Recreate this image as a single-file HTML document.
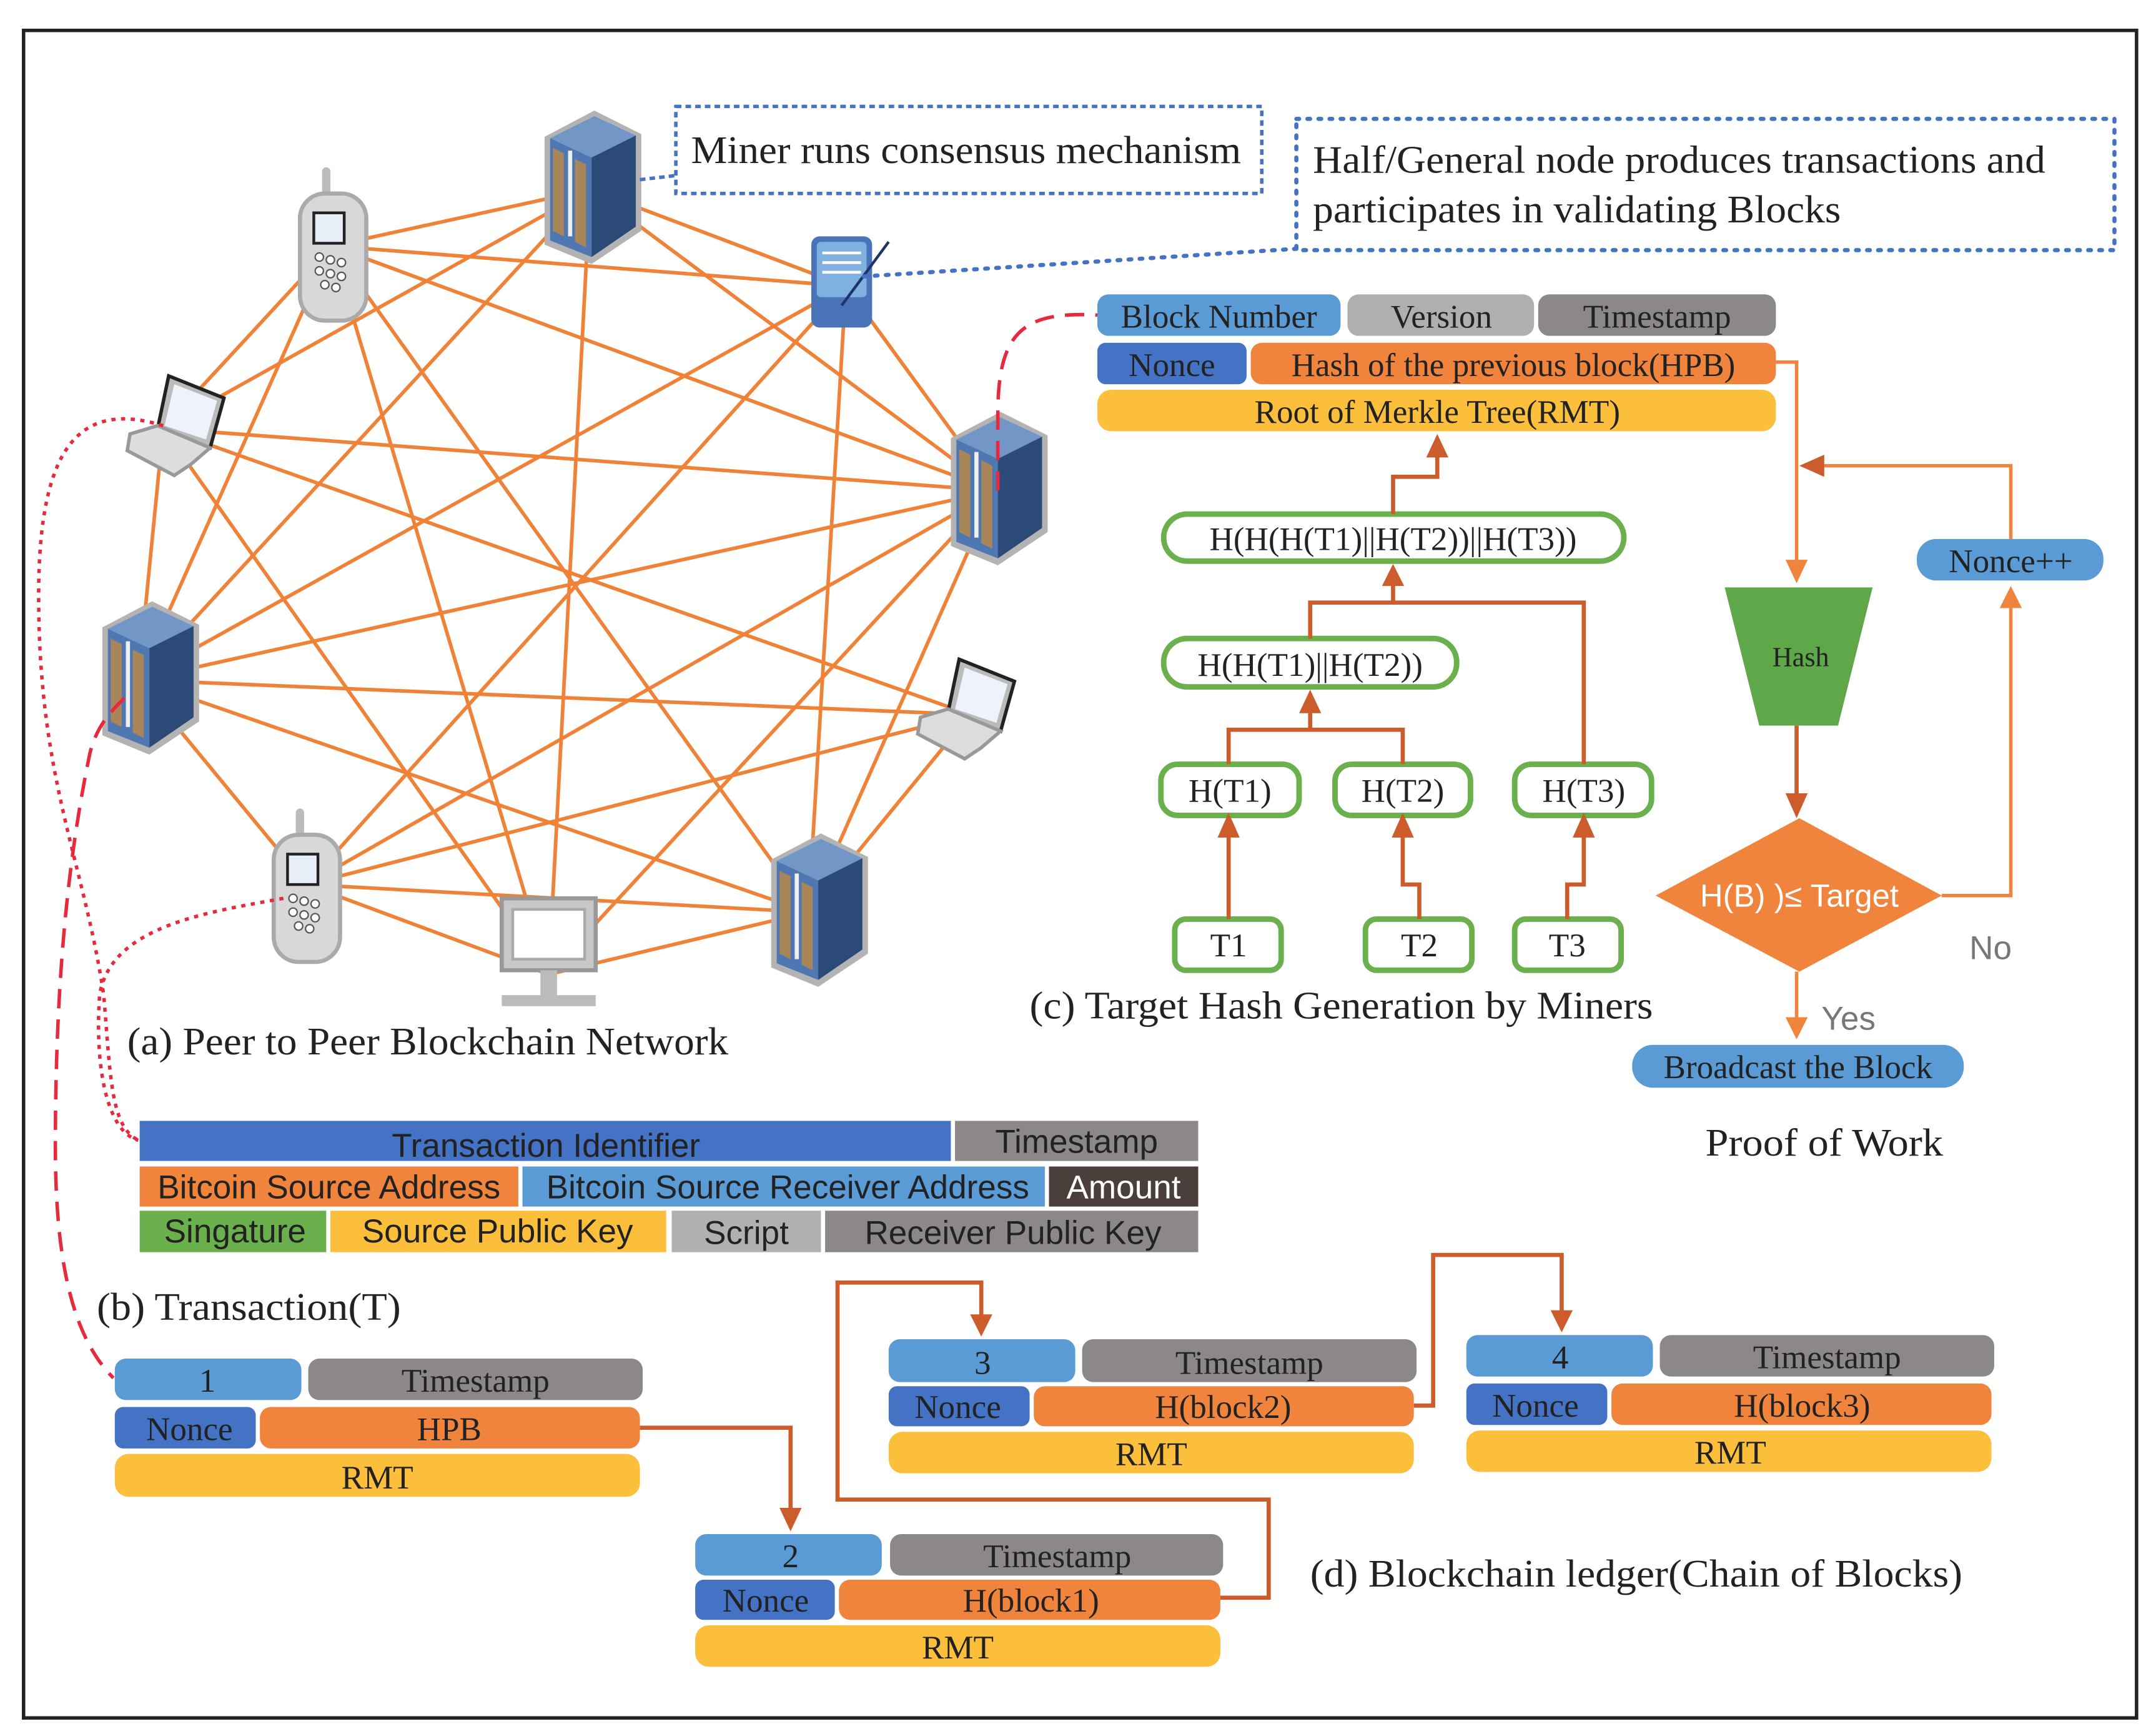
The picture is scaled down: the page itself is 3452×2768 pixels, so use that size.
<!DOCTYPE html>
<html><head><meta charset="utf-8"><style>
html,body{margin:0;padding:0;background:#fff}
svg{display:block}
.s{font-family:"Liberation Serif",serif;fill:#222}
.a{font-family:"Liberation Sans",sans-serif;fill:#222}
</style></head><body>
<svg width="3452" height="2768" viewBox="0 0 1560 1251" xmlns="http://www.w3.org/2000/svg">
<defs>
<g id="srv">
<polygon points="-34,-38 2,-57 36,-40 36,30 0,54 -34,40" fill="#b3b3b3"/>
<polygon points="-30,-37 2,-53 32,-39 0,-23" fill="#7296c6"/>
<polygon points="-30,-37 0,-23 0,49 -30,37" fill="#4f78b2"/>
<polygon points="0,-23 32,-39 32,27 0,49" fill="#2c4a77"/>
<polygon points="-28,-30 -20,-26 -20,34 -28,30" fill="#a8865a"/>
<polygon points="-12,-22 -4,-18 -4,42 -12,38" fill="#a8865a"/>
<rect x="-17" y="-28" width="3" height="62" fill="#eee"/>
</g>
<g id="phone">
<rect x="-8" y="-55" width="6" height="22" rx="3" fill="#bbb"/>
<rect x="-24" y="-36" width="48" height="92" rx="18" fill="#d8d8d8" stroke="#aaa" stroke-width="3"/>
<rect x="-14" y="-22" width="22" height="22" fill="#e8eef8" stroke="#222" stroke-width="2"/>
<g fill="#fff" stroke="#555" stroke-width="1"><circle cx="-10" cy="10" r="3"/><circle cx="-2" cy="12" r="3"/><circle cx="6" cy="14" r="3"/><circle cx="-10" cy="20" r="3"/><circle cx="-2" cy="22" r="3"/><circle cx="6" cy="24" r="3"/><circle cx="-6" cy="30" r="3"/><circle cx="2" cy="32" r="3"/></g>
</g>
<g id="lap">
<polygon points="-6,-36 34,-20 24,16 -14,2" fill="#bbb" stroke="#222" stroke-width="2.5"/>
<polygon points="-2,-30 29,-18 21,10 -9,0" fill="#eef2fa"/>
<polygon points="-34,6 -14,0 24,16 10,28 -2,36 -36,18" fill="#ddd" stroke="#999" stroke-width="2.5"/>
</g>
</defs>
<rect x="17" y="22" width="1529" height="1221" fill="none" stroke="#222" stroke-width="2.5"/>

<g stroke="#f08237" stroke-width="2.6">
<line x1="427" y1="137" x2="240" y2="178"/><line x1="427" y1="137" x2="612" y2="207"/><line x1="427" y1="137" x2="118" y2="310"/><line x1="427" y1="137" x2="720" y2="355"/><line x1="427" y1="137" x2="397" y2="705"/><line x1="427" y1="137" x2="100" y2="492"/>
<line x1="240" y1="178" x2="612" y2="207"/><line x1="240" y1="178" x2="118" y2="310"/><line x1="240" y1="178" x2="720" y2="355"/><line x1="240" y1="178" x2="100" y2="492"/><line x1="240" y1="178" x2="585" y2="660"/><line x1="240" y1="178" x2="397" y2="705"/>
<line x1="612" y1="207" x2="720" y2="355"/><line x1="612" y1="207" x2="100" y2="492"/><line x1="612" y1="207" x2="222" y2="640"/><line x1="612" y1="207" x2="585" y2="660"/>
<line x1="118" y1="310" x2="720" y2="355"/><line x1="118" y1="310" x2="100" y2="492"/><line x1="118" y1="310" x2="702" y2="517"/><line x1="118" y1="310" x2="397" y2="705"/>
<line x1="720" y1="355" x2="100" y2="492"/><line x1="720" y1="355" x2="585" y2="660"/><line x1="720" y1="355" x2="397" y2="705"/><line x1="720" y1="355" x2="222" y2="640"/>
<line x1="100" y1="492" x2="702" y2="517"/><line x1="100" y1="492" x2="222" y2="640"/><line x1="100" y1="492" x2="585" y2="660"/>
<line x1="702" y1="517" x2="585" y2="660"/><line x1="702" y1="517" x2="222" y2="640"/>
<line x1="222" y1="640" x2="585" y2="660"/><line x1="222" y1="640" x2="397" y2="705"/><line x1="397" y1="705" x2="585" y2="660"/>
</g>

<use href="#srv" x="428" y="137"/>
<use href="#phone" x="241" y="176"/>
<g transform="translate(609,203)"><rect x="-22" y="-32" width="44" height="66" rx="6" fill="#4a74b8"/><rect x="-18" y="-28" width="36" height="40" rx="3" fill="#7fb0e0"/><g stroke="#fff" stroke-width="2"><line x1="-14" y1="-20" x2="14" y2="-20"/><line x1="-14" y1="-13" x2="14" y2="-13"/><line x1="-14" y1="-6" x2="14" y2="-6"/></g><line x1="0" y1="18" x2="34" y2="-28" stroke="#1c3566" stroke-width="2"/></g>
<use href="#lap" x="128" y="308"/>
<use href="#srv" x="722" y="355"/>
<use href="#srv" x="108" y="492"/>
<use href="#lap" x="700" y="513"/>
<use href="#phone" x="222" y="640"/>
<g transform="translate(397,690)"><rect x="-34" y="-40" width="68" height="52" fill="#c8c8c8" stroke="#999" stroke-width="3"/><rect x="-26" y="-32" width="52" height="36" fill="#fff" stroke="#aaa" stroke-width="2"/><rect x="-6" y="12" width="12" height="22" fill="#bbb"/><rect x="-34" y="30" width="68" height="8" fill="#bbb"/></g>
<use href="#srv" x="592" y="660"/>

<rect x="489" y="77" width="424" height="63" fill="none" stroke="#4472c4" stroke-width="2.5" stroke-dasharray="4,3"/>
<line x1="463" y1="130" x2="489" y2="127" stroke="#4472c4" stroke-width="2.5" stroke-dasharray="4,3"/>
<text x="500" y="118" class="s" font-size="28" textLength="398" lengthAdjust="spacingAndGlyphs">Miner runs consensus mechanism</text>
<rect x="938" y="86" width="592" height="95" fill="none" stroke="#4472c4" stroke-width="3" stroke-dasharray="2,6" stroke-linecap="round"/>
<line x1="625" y1="200" x2="938" y2="180" stroke="#4472c4" stroke-width="3" stroke-dasharray="2,6" stroke-linecap="round"/>
<text x="950" y="125" class="s" font-size="28" textLength="530" lengthAdjust="spacingAndGlyphs">Half/General node produces transactions and</text>
<text x="950" y="161" class="s" font-size="28" textLength="382" lengthAdjust="spacingAndGlyphs">participates in validating Blocks</text>

<g fill="none" stroke="#e8283c" stroke-width="2.5">
<path d="M722,355 L722,300 C722,240 740,225 794,228" stroke-dasharray="14,8"/>
<path d="M118,308 C60,290 30,320 28,420 C26,560 60,620 75,720 C80,780 80,815 100,825" stroke-dasharray="3,4"/>
<path d="M205,650 C150,660 80,670 72,720 C68,780 80,820 100,825" stroke-dasharray="3,4"/>
<path d="M90,505 C80,515 70,525 65,545 C45,640 40,740 40,830 C40,920 55,970 82,997" stroke-dasharray="14,8"/>
</g>

<g class="s" font-size="24" text-anchor="middle">
<rect x="794" y="213" width="176" height="30" rx="8" fill="#5b9bd5"/><text x="882" y="237">Block Number</text>
<rect x="975" y="213" width="135" height="30" rx="8" fill="#afafaf"/><text x="1043" y="237">Version</text>
<rect x="1113" y="213" width="172" height="30" rx="8" fill="#8c8888"/><text x="1199" y="237">Timestamp</text>
<rect x="794" y="248" width="108" height="30" rx="6" fill="#4472c4"/><text x="848" y="272">Nonce</text>
<rect x="905" y="248" width="380" height="30" rx="8" fill="#f0843c"/><text x="1095" y="272">Hash of the previous block(HPB)</text>
<rect x="794" y="282" width="491" height="30" rx="10" fill="#fbbf3b"/><text x="1040" y="306">Root of Merkle Tree(RMT)</text>
</g>

<g fill="#fff" stroke="#6ab04c" stroke-width="4">
<rect x="842" y="372" width="333" height="34" rx="17"/>
<rect x="842" y="462" width="212" height="35" rx="17"/>
<rect x="840" y="553" width="100" height="37" rx="12"/>
<rect x="966" y="553" width="98" height="37" rx="12"/>
<rect x="1096" y="553" width="99" height="37" rx="12"/>
<rect x="850" y="665" width="77" height="37" rx="8"/>
<rect x="988" y="665" width="77" height="37" rx="8"/>
<rect x="1096" y="665" width="77" height="37" rx="8"/>
</g>
<g class="s" font-size="24" text-anchor="middle">
<text x="1008" y="398">H(H(H(T1)||H(T2))||H(T3))</text>
<text x="948" y="489">H(H(T1)||H(T2))</text>
<text x="890" y="580">H(T1)</text><text x="1015" y="580">H(T2)</text><text x="1146" y="580">H(T3)</text>
<text x="889" y="692">T1</text><text x="1027" y="692">T2</text><text x="1134" y="692">T3</text>
</g>
<g fill="none" stroke="#cd5c2c" stroke-width="3">
<path d="M889,665 V600"/><path d="M1027,665 V640 H1015 V600"/><path d="M1134,665 V640 H1146 V600"/>
<path d="M889,553 V528 H1015 V553"/><path d="M948,528 V510"/>
<path d="M948,462 V436 H1146 V553"/><path d="M1008,436 V418"/>
<path d="M1008,372 V345 H1040 V325"/>
<path d="M463,1033 H572 V1095"/>
<path d="M883,1156 H918 V1085 H606 V928 H710 V955"/>
<path d="M1023,1017 H1037 V908 H1130 V952"/>
<path d="M1300,525 V580"/>
</g>
<g fill="#cd5c2c">
<polygon points="889,588 881,606 897,606"/><polygon points="1015,588 1007,606 1023,606"/><polygon points="1146,588 1138,606 1154,606"/>
<polygon points="948,499 940,516 956,516"/><polygon points="1008,408 1000,424 1016,424"/><polygon points="1040,314 1032,331 1048,331"/>
<polygon points="572,1108 564,1091 580,1091"/><polygon points="710,967 702,951 718,951"/><polygon points="1130,964 1122,948 1138,948"/>
<polygon points="1300,592 1292,574 1308,574"/>
</g>

<g fill="none" stroke="#f0843c" stroke-width="2.5">
<path d="M1285,262 H1300 V410"/><path d="M1455,390 V337 H1315"/><path d="M1405,648 H1455 V438"/><path d="M1300,703 V740"/>
</g>
<g fill="#f0843c">
<polygon points="1300,422 1292,405 1308,405"/><polygon points="1455,424 1447,440 1463,440"/><polygon points="1300,752 1292,736 1308,736"/>
</g>
<polygon points="1302,337 1320,329 1320,345" fill="#cd5c2c"/>
<polygon points="1248,425 1355,425 1330,525 1273,525" fill="#5fa84a"/>
<text x="1303" y="482" class="s" font-size="20" text-anchor="middle">Hash</text>
<polygon points="1302,592 1405,648 1302,703 1198,648" fill="#f0843c"/>
<text x="1302" y="656" class="a" font-size="23" style="fill:#fff" text-anchor="middle">H(B) )≤ Target</text>
<rect x="1387" y="390" width="135" height="30" rx="14" fill="#5b9bd5"/>
<text x="1455" y="414" class="s" font-size="24" text-anchor="middle">Nonce++</text>
<text x="1425" y="694" class="a" font-size="24" style="fill:#777">No</text>
<text x="1318" y="745" class="a" font-size="24" style="fill:#777">Yes</text>
<rect x="1181" y="756" width="240" height="31" rx="15" fill="#5b9bd5"/>
<text x="1301" y="780" class="s" font-size="24" text-anchor="middle">Broadcast the Block</text>
<text x="1320" y="836" class="s" font-size="28" text-anchor="middle" textLength="172" lengthAdjust="spacingAndGlyphs">Proof of Work</text>
<text x="745" y="737" class="s" font-size="28" textLength="451" lengthAdjust="spacingAndGlyphs">(c) Target Hash Generation by Miners</text>
<text x="92" y="763" class="s" font-size="28" textLength="435" lengthAdjust="spacingAndGlyphs">(a) Peer to Peer Blockchain Network</text>

<g class="a" font-size="24" text-anchor="middle">
<rect x="101" y="811" width="587" height="29" fill="#4472c4"/><text x="395" y="837">Transaction Identifier</text>
<rect x="691" y="811" width="176" height="29" fill="#8c8888"/><text x="779" y="834">Timestamp</text>
<rect x="101" y="844" width="274" height="29" fill="#f0843c"/><text x="238" y="867">Bitcoin Source Address</text>
<rect x="378" y="844" width="378" height="29" fill="#5b9bd5"/><text x="570" y="867">Bitcoin Source Receiver Address</text>
<rect x="759" y="844" width="108" height="29" fill="#4a3f3a"/><text x="813" y="867" style="fill:#fff">Amount</text>
<rect x="101" y="876" width="135" height="30" fill="#6ab04c"/><text x="170" y="899">Singature</text>
<rect x="239" y="876" width="243" height="30" fill="#fbbf3b"/><text x="360" y="899">Source Public Key</text>
<rect x="486" y="876" width="108" height="30" fill="#b0b0b0"/><text x="540" y="900">Script</text>
<rect x="597" y="876" width="270" height="30" fill="#8c8888"/><text x="733" y="900">Receiver Public Key</text>
</g>
<text x="70" y="955" class="s" font-size="28" textLength="220" lengthAdjust="spacingAndGlyphs">(b) Transaction(T)</text>

<g class="s" font-size="24" text-anchor="middle">
<rect x="83" y="983" width="135" height="30" rx="8" fill="#5b9bd5"/><text x="150" y="1007">1</text>
<rect x="223" y="983" width="242" height="30" rx="8" fill="#8c8888"/><text x="344" y="1007">Timestamp</text>
<rect x="83" y="1018" width="102" height="30" rx="6" fill="#4472c4"/><text x="137" y="1042">Nonce</text>
<rect x="188" y="1018" width="275" height="30" rx="8" fill="#f0843c"/><text x="325" y="1042">HPB</text>
<rect x="83" y="1052" width="380" height="31" rx="10" fill="#fbbf3b"/><text x="273" y="1077">RMT</text>

<rect x="503" y="1110" width="135" height="30" rx="8" fill="#5b9bd5"/><text x="572" y="1134">2</text>
<rect x="644" y="1110" width="241" height="30" rx="8" fill="#8c8888"/><text x="765" y="1134">Timestamp</text>
<rect x="503" y="1143" width="101" height="29" rx="6" fill="#4472c4"/><text x="554" y="1166">Nonce</text>
<rect x="607" y="1143" width="276" height="29" rx="8" fill="#f0843c"/><text x="746" y="1166">H(block1)</text>
<rect x="503" y="1176" width="380" height="30" rx="10" fill="#fbbf3b"/><text x="693" y="1200">RMT</text>

<rect x="643" y="969" width="135" height="31" rx="8" fill="#5b9bd5"/><text x="711" y="994">3</text>
<rect x="783" y="969" width="242" height="31" rx="8" fill="#8c8888"/><text x="904" y="994">Timestamp</text>
<rect x="643" y="1003" width="102" height="29" rx="6" fill="#4472c4"/><text x="693" y="1026">Nonce</text>
<rect x="748" y="1003" width="275" height="29" rx="8" fill="#f0843c"/><text x="885" y="1026">H(block2)</text>
<rect x="643" y="1036" width="380" height="30" rx="10" fill="#fbbf3b"/><text x="833" y="1060">RMT</text>

<rect x="1061" y="966" width="135" height="30" rx="8" fill="#5b9bd5"/><text x="1129" y="990">4</text>
<rect x="1201" y="966" width="242" height="30" rx="8" fill="#8c8888"/><text x="1322" y="990">Timestamp</text>
<rect x="1061" y="1001" width="102" height="30" rx="6" fill="#4472c4"/><text x="1111" y="1025">Nonce</text>
<rect x="1166" y="1001" width="275" height="30" rx="8" fill="#f0843c"/><text x="1304" y="1025">H(block3)</text>
<rect x="1061" y="1035" width="380" height="30" rx="10" fill="#fbbf3b"/><text x="1252" y="1059">RMT</text>
</g>
<text x="948" y="1148" class="s" font-size="28" textLength="472" lengthAdjust="spacingAndGlyphs">(d) Blockchain ledger(Chain of Blocks)</text>
</svg>
</body></html>
